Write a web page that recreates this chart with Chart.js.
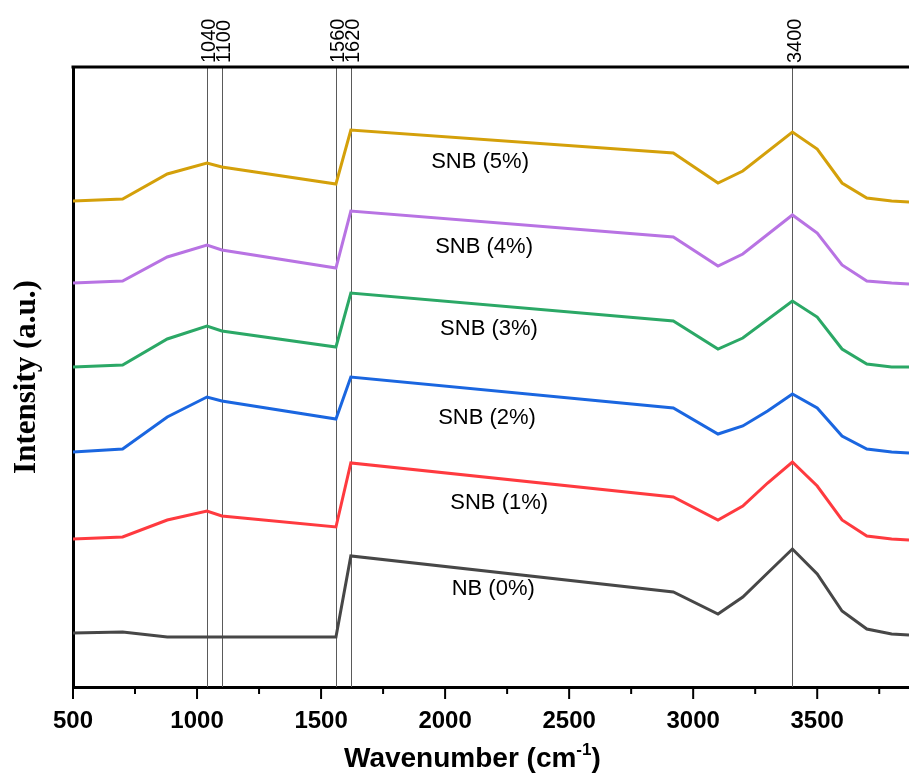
<!DOCTYPE html>
<html>
<head>
<meta charset="utf-8">
<script src="https://cdn.jsdelivr.net/npm/chart.js@4"></script>
<style>
  body { margin: 0; background: #fff; }
  canvas { display: block; }
</style>
</head>
<body>
<canvas id="chart" width="909" height="780"></canvas>
<script>
// wavenumber (cm-1) of each vertex
const wavenumbers = [500, 700, 880, 1040, 1100, 1560, 1620, 2920, 3100, 3200, 3300, 3400, 3500, 3600, 3700, 3800, 3870];

// stacked intensities (a.u.)
const snb5 = [486, 488, 513, 524, 520, 503, 557, 534, 504, 516, null, 555, 538, 504, 489, 486, 485];
const snb4 = [404, 406, 430, 442, 437, 419, 476, 450, 421, 433, null, 472, 454, 422, 406, 404, 403];
const snb3 = [320, 322, 348, 361, 356, 340, 394, 366, 338, 349, null, 386, 370, 338, 323, 320, 320];
const snb2 = [235, 238, 270, 290, 286, 268, 310, 279, 253, 261, 276, 293, 279, 251, 238, 235, 234];
const snb1 = [148, 150, 167, 176, 171, 160, 224, 190, 167, 181, 204, 225, 201, 167, 151, 148, 147];
const nb0 = [54, 55, 50, 50, 50, 50, 131, 95, 73, 90, 114, 138, 113, 76, 58, 53, 52];

const seriesNames = ["SNB (5%)", "SNB (4%)", "SNB (3%)", "SNB (2%)", "SNB (1%)", "NB (0%)"];
const seriesColors = ["#D4A00A", "#B873E3", "#2BA866", "#1A66E0", "#FF3A3F", "#474747"];
const labelX = [2141, 2157, 2177, 2169, 2218, 2194];
const labelY = [525, 440, 358, 269, 184, 98];

const peakLines = [1040, 1100, 1560, 1620, 3400];
const majorTicks = [500, 1000, 1500, 2000, 2500, 3000, 3500];
const minorTicks = [750, 1250, 1750, 2250, 2750, 3250, 3750];

const sans = "'Liberation Sans', Arial, sans-serif";
const serif = "'Liberation Serif', 'Times New Roman', serif";

function toPoints(values) {
  return wavenumbers.map((x, i) => ({ x, y: values[i] }));
}

const allSeries = [snb5, snb4, snb3, snb2, snb1, nb0];

const overlay = {
  id: "overlay",
  beforeDatasetsDraw(chart) {
    const { ctx, chartArea, scales } = chart;
    ctx.save();
    ctx.strokeStyle = "#5a5a5a";
    ctx.lineWidth = 1;
    for (let v of peakLines) {
      const px = Math.round(scales.x.getPixelForValue(v)) + 0.5;
      ctx.beginPath();
      ctx.moveTo(px, chartArea.top);
      ctx.lineTo(px, chartArea.bottom);
      ctx.stroke();
    }
    ctx.restore();
  },
  afterDraw(chart) {
    const { ctx, chartArea, scales } = chart;
    ctx.save();

    // top frame line
    ctx.strokeStyle = "#000";
    ctx.lineWidth = 3;
    ctx.beginPath();
    ctx.moveTo(chartArea.left - 1.5, chartArea.top);
    ctx.lineTo(chartArea.right, chartArea.top);
    ctx.stroke();

    // tick marks
    ctx.lineWidth = 2;
    const drawTick = (v, len) => {
      const px = scales.x.getPixelForValue(v);
      ctx.beginPath();
      ctx.moveTo(px, chartArea.bottom);
      ctx.lineTo(px, chartArea.bottom + len);
      ctx.stroke();
    };
    majorTicks.forEach((v) => drawTick(v, 12));
    minorTicks.forEach((v) => drawTick(v, 7));

    // peak labels on top
    ctx.fillStyle = "#000";
    ctx.font = "20px " + sans;
    ctx.textAlign = "left";
    ctx.textBaseline = "middle";
    for (let v of peakLines) {
      const px = scales.x.getPixelForValue(v);
      ctx.save();
      ctx.translate(px + 3, chartArea.top - 4);
      ctx.rotate(-Math.PI / 2);
      ctx.fillText(String(v), 0, 0);
      ctx.restore();
    }

    // series labels
    ctx.textAlign = "center";
    ctx.font = "22px " + sans;
    seriesNames.forEach((name, i) => {
      ctx.fillText(name, scales.x.getPixelForValue(labelX[i]), scales.y.getPixelForValue(labelY[i]));
    });

    // x title with superscript
    ctx.textBaseline = "alphabetic";
    ctx.textAlign = "left";
    const big = "bold 28px " + sans;
    const small = "bold 17px " + sans;
    const part1 = "Wavenumber (cm";
    const sup = "-1";
    const part2 = ")";
    ctx.font = big;
    const w1 = ctx.measureText(part1).width;
    const w3 = ctx.measureText(part2).width;
    ctx.font = small;
    const w2 = ctx.measureText(sup).width;
    const total = w1 + w2 + w3;
    let tx = scales.x.getPixelForValue(2110) - total / 2;
    const ty = 767;
    ctx.font = big;
    ctx.fillText(part1, tx, ty);
    ctx.font = small;
    ctx.fillText(sup, tx + w1, ty - 12);
    ctx.font = big;
    ctx.fillText(part2, tx + w1 + w2, ty);

    // y title
    ctx.save();
    ctx.translate(27, (chartArea.top + chartArea.bottom) / 2);
    ctx.rotate(-Math.PI / 2);
    ctx.textAlign = "center";
    ctx.textBaseline = "middle";
    ctx.font = "bold 31px " + serif;
    ctx.fillText("Intensity (a.u.)", 0, 0);
    ctx.restore();

    ctx.restore();
  },
};

function main() {
  const datasets = allSeries.map((values, i) => ({
    label: seriesNames[i],
    data: toPoints(values),
    borderColor: seriesColors[i],
    borderWidth: 3,
    pointRadius: 0,
    tension: 0,
    spanGaps: true,
    fill: false,
  }));

  new Chart(document.getElementById("chart"), {
    type: "line",
    data: { datasets },
    options: {
      responsive: false,
      animation: false,
      layout: { padding: { top: 67, right: 0, left: 0, bottom: 0 } },
      plugins: {
        legend: { display: false },
        tooltip: { enabled: false },
      },
      scales: {
        x: {
          type: "linear",
          min: 500,
          max: 3870,
          afterBuildTicks: (scale) => {
            scale.ticks = majorTicks.map((v) => ({ value: v }));
          },
          afterFit: (scale) => {
            scale.height = 780 - 67 - 620;
          },
          border: { display: true, color: "#000", width: 3 },
          grid: { display: false, drawTicks: false },
          ticks: {
            color: "#000",
            padding: 20,
            maxRotation: 0,
            autoSkip: false,
            font: { family: sans, size: 24, weight: "bold" },
            callback: (v) => String(v),
          },
        },
        y: {
          min: 0,
          max: 620,
          afterFit: (scale) => {
            scale.width = 73;
          },
          border: { display: true, color: "#000", width: 3 },
          grid: { display: false, drawTicks: false },
          ticks: { display: false },
        },
      },
    },
    plugins: [overlay],
  });
}

document.addEventListener("DOMContentLoaded", () => main());
</script>
</body>
</html>
